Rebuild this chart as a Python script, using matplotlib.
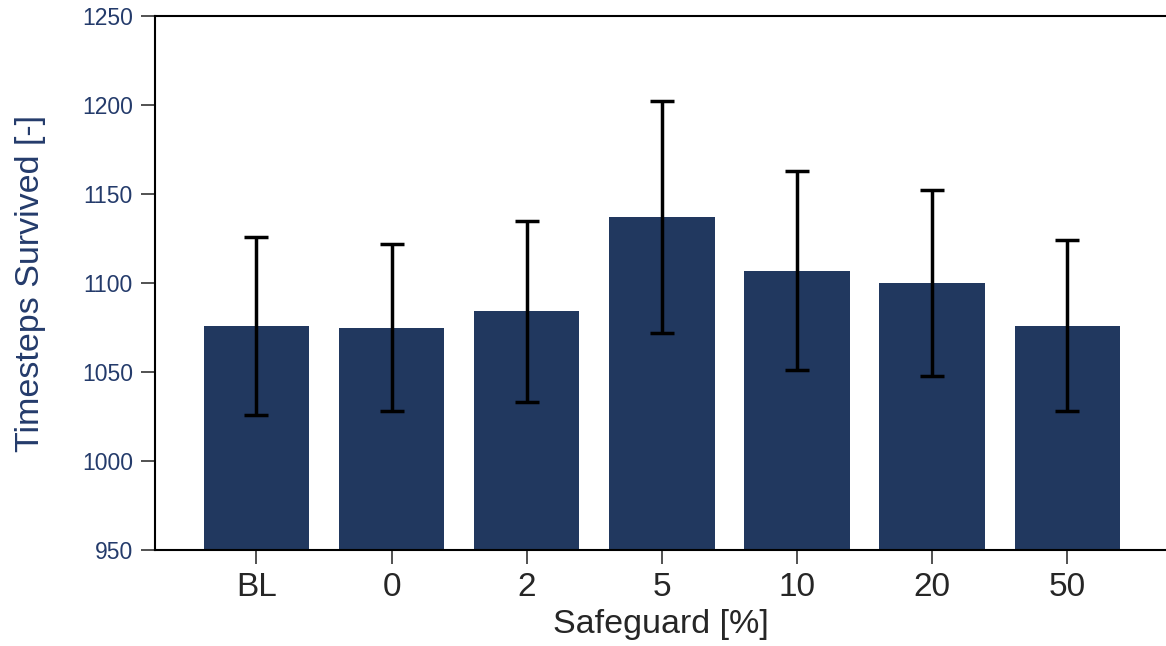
import matplotlib
matplotlib.use("Agg")
import matplotlib.pyplot as plt
import numpy as np

plt.rcParams['font.family'] = ['Liberation Sans', 'DejaVu Sans']

# survival per safeguard level
categories = ['BL', '0', '2', '5', '10', '20', '50']
means = [1076, 1075, 1084, 1137, 1107, 1100, 1076]
errors = [50, 47, 51, 65, 56, 52, 48]
yticks = [950, 1000, 1050, 1100, 1150, 1200, 1250]

navy = '#21385f'
label_blue = '#243b6b'
grey = '#262626'

fig = plt.figure(figsize=(11.66, 6.46), dpi=100)
ax = fig.add_axes([155 / 1166, 1 - 550 / 646, 1 - 155 / 1166, (550 - 16) / 646])

x = np.arange(len(categories))
ax.bar(x, means, width=0.78, color=navy, zorder=2)
ax.errorbar(x, means, yerr=errors, fmt='none', ecolor='black',
            elinewidth=2.5, capsize=8.5, capthick=2.5, zorder=3)

ax.set_xlim(-0.75, 6.73)
ax.set_ylim(950, 1250)
ax.set_yticks(yticks)
ax.set_xticks(x)
ax.set_xticklabels(categories)

ax.spines['right'].set_visible(False)
for s in ['left', 'top', 'bottom']:
    ax.spines[s].set_linewidth(1.5)
    ax.spines[s].set_color('black')

ax.tick_params(axis='y', length=10, width=1.2, color='#333333',
               labelsize=16.5, labelcolor=label_blue, pad=6)
ax.tick_params(axis='x', length=10, width=1.2, color='#333333',
               labelsize=24, labelcolor=grey, pad=6)

ax.set_ylabel('Timesteps Survived [-]', fontsize=24.5, color=label_blue, labelpad=26)
ax.set_xlabel('Safeguard [%]', fontsize=24.5, color=grey, labelpad=4)

fig.savefig('out.png', dpi=100)
